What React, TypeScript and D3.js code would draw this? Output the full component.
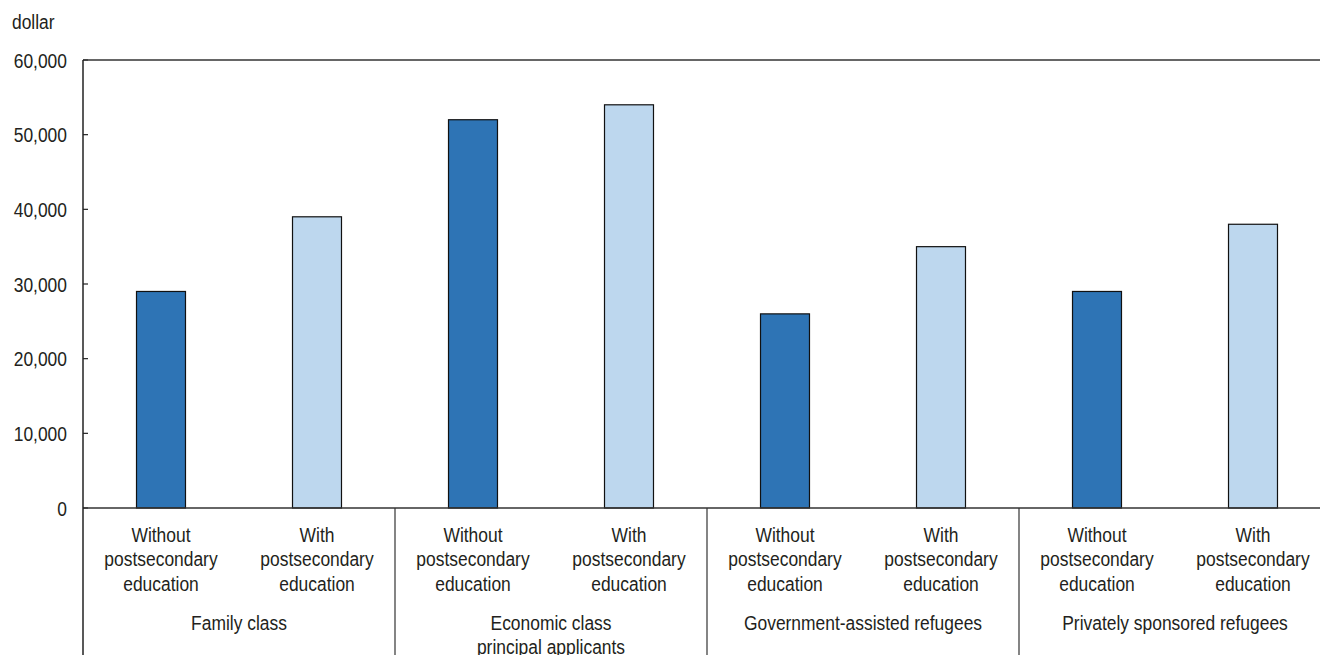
import React from "react";
import * as d3 from "d3";

const groups: string[][] = [
  ["Family class"],
  ["Economic class", "principal applicants"],
  ["Government-assisted refugees"],
  ["Privately sponsored refugees"],
];
const subLabels: string[][] = [
  ["Without", "postsecondary", "education"],
  ["With", "postsecondary", "education"],
];
const withoutValues = [29000, 52000, 26000, 29000];
const withValues = [39000, 54000, 35000, 38000];
const yTicks = [0, 10000, 20000, 30000, 40000, 50000, 60000];
const unitLabel = "dollar";

const W = 1320;
const H = 655;
const FONT = "'Liberation Sans', Arial, sans-serif";
const TXT = "#231f20";
const FS = 21;
const SQ = 0.83;

function T(props: { x: number; y: number; anchor?: string; dy?: string; children: React.ReactNode }) {
  return (
    <text
      transform={`translate(${props.x},${props.y}) scale(${SQ},1)`}
      dy={props.dy}
      textAnchor={props.anchor || "start"}
      fontSize={FS}
      fill={TXT}
    >
      {props.children}
    </text>
  );
}

export default function App() {
  const left = 83;
  const top = 60;
  const zeroY = 508;
  const groupW = 312;
  const y = d3.scaleLinear().domain([0, 60000]).range([zeroY, top]);
  const gx = d3
    .scaleBand<number>()
    .domain(groups.map((_, i) => i))
    .range([left, left + groups.length * groupW])
    .padding(0);
  const sx = d3.scaleBand<number>().domain([0, 1]).range([0, gx.bandwidth()]).padding(0);
  const barW = sx.bandwidth() * 0.314;
  const colors = ["#2e74b5", "#bdd7ee"];
  const series = [withoutValues, withValues];
  const fmt = d3.format(",");

  return (
    <svg width={W} height={H} style={{ position: "absolute", left: 0, top: 0, background: "#fff" }} fontFamily={FONT}>
      <T x={12} y={29}>{unitLabel}</T>
      {yTicks.map((t) => (
        <g key={t}>
          <T x={67} y={y(t)} dy="0.36em" anchor="end">{fmt(t)}</T>
          <line x1={left} x2={left + 5} y1={y(t)} y2={y(t)} stroke="#222" strokeWidth={1.2} />
        </g>
      ))}
      {groups.map((_, gi) =>
        series.map((vals, si) => {
          const cx = (gx(gi) as number) + (sx(si) as number) + sx.bandwidth() / 2;
          return (
            <rect
              key={`${gi}-${si}`}
              x={cx - barW / 2}
              y={y(vals[gi])}
              width={barW}
              height={zeroY - y(vals[gi])}
              fill={colors[si]}
              stroke="#111"
              strokeWidth={1.2}
            />
          );
        })
      )}
      <line x1={left} x2={W} y1={top} y2={top} stroke="#333" strokeWidth={1.5} />
      <line x1={left} x2={W} y1={zeroY} y2={zeroY} stroke="#333" strokeWidth={1.5} />
      <line x1={left} x2={left} y1={top} y2={H} stroke="#222" strokeWidth={1.5} />
      {groups.map((_, gi) =>
        gi > 0 ? (
          <line key={`d${gi}`} x1={gx(gi)} x2={gx(gi)} y1={zeroY} y2={H} stroke="#333" strokeWidth={1.2} />
        ) : null
      )}
      {groups.map((g, gi) => (
        <g key={`l${gi}`}>
          {subLabels.map((lines, si) => {
            const cx = (gx(gi) as number) + (sx(si) as number) + sx.bandwidth() / 2;
            return lines.map((ln, li) => (
              <T key={`${si}-${li}`} x={cx} y={541.5 + li * 24.5} anchor="middle">
                {ln}
              </T>
            ));
          })}
          {g.map((ln, li) => (
            <T key={`g${li}`} x={(gx(gi) as number) + gx.bandwidth() / 2} y={630 + li * 23.5} anchor="middle">
              {ln}
            </T>
          ))}
        </g>
      ))}
    </svg>
  );
}
